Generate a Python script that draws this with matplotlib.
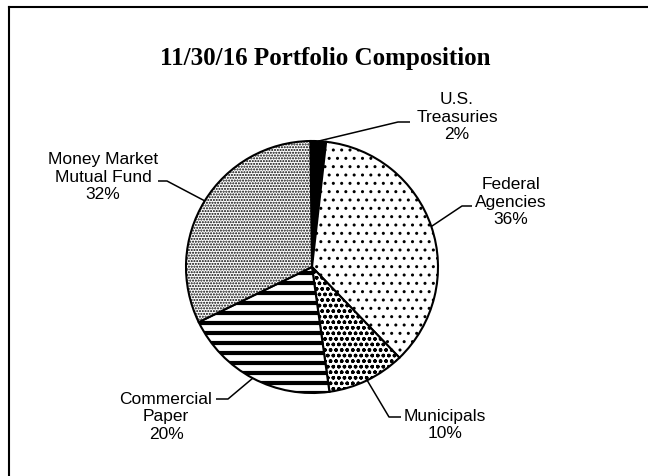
import numpy as np
import matplotlib
matplotlib.use("Agg")
from matplotlib import pyplot as plt

W, H = 648, 477

# data
names = ["U.S.\nTreasuries", "Federal\nAgencies", "Municipals",
         "Commercial\nPaper", "Money Market\nMutual Fund"]
shares = [2, 36, 10, 20, 32]

# styling per slice
faces = ["black", "white", "white", "white", "white"]
hatches = [None, "..", "ooo", None, "......"]

# label layout in pixel coords (text centre, elbow, end of leader)
text_xy = [(457, 117), (511, 202), (445, 425), (166, 417), (103, 177)]
elbow_xy = [(398, 123), (462, 207), (389, 418), (228, 400), (167, 182)]
end_xy = [(410, 123), (472, 207), (401, 418), (216, 400), (158, 182)]

cx, cy, r = 312, 268, 126


def py(y):
    return H - y


fig = plt.figure(figsize=(W / 100, H / 100), dpi=100)
ax = fig.add_axes([0, 0, 1, 1])
ax.set_xlim(0, W)
ax.set_ylim(0, H)
ax.axis("off")

wedges, _ = ax.pie(shares, startangle=90.75, counterclock=False,
                   center=(cx, py(cy)), radius=r, colors=faces,
                   wedgeprops=dict(edgecolor="black", linewidth=1.5))
ax.set_xlim(0, W)
ax.set_ylim(0, H)
ax.set_aspect("equal")

for w, h in zip(wedges, hatches):
    if h:
        w.set_hatch(h)

# thick horizontal stripes for commercial paper
stripe = wedges[3]
for yy in np.arange(py(cy) - r, py(cy) + 2, 10):
    ax.hlines(yy, cx - r, cx + r, color="black", linewidth=3, clip_path=stripe)

for w, name, pct, txy, exy, nxy in zip(wedges, names, shares, text_xy, elbow_xy, end_xy):
    mid = np.deg2rad((w.theta1 + w.theta2) / 2)
    ax_x = cx + r * np.cos(mid)
    ax_y = py(cy) + r * np.sin(mid)
    ax.plot([ax_x, exy[0], nxy[0]], [ax_y, py(exy[1]), py(nxy[1])],
            color="black", linewidth=1.1, solid_capstyle="butt")
    ax.text(txy[0], py(txy[1]), f"{name}\n{pct}%", ha="center", va="center",
            fontsize=12.5, family="Liberation Sans", linespacing=1.2)

ax.text(325, py(59), "11/30/16 Portfolio Composition", ha="center", va="center",
        fontsize=18, family="Liberation Serif", weight="bold")

# page frame (top and left edges only)
ax.plot([8.5, W], [py(8), py(8)], color="black", linewidth=1.5)
ax.plot([8.5, 8.5], [py(8), 0], color="black", linewidth=1.5)

fig.savefig("out.png", dpi=100)
